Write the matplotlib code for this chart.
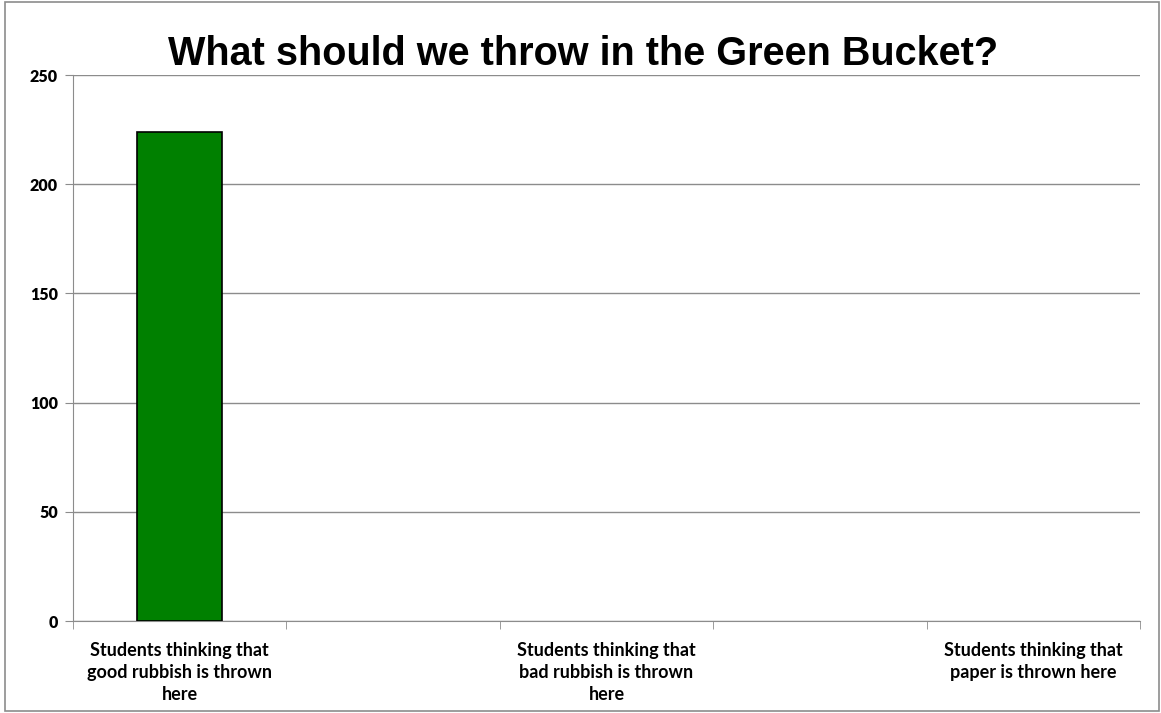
import matplotlib.pyplot as plt
from matplotlib.patches import Rectangle
import numpy as np

# Kategorien (2. und 4. sind leere Kategorien im Original)
categories = ["Students thinking that\ngood rubbish is thrown\nhere", "",
              "Students thinking that\nbad rubbish is thrown\nhere", "",
              "Students thinking that\npaper is thrown here"]
values = [224, 0, 0, 0, 0]
y_ticks = [0, 50, 100, 150, 200, 250]

fig = plt.figure(figsize=(11.61, 7.13), dpi=100)
ax = fig.add_axes([73 / 1161, 1 - 621 / 713, 1067 / 1161, 546 / 713])

x = np.arange(len(categories))
for xi, v in zip(x, values):
    if v > 0:
        ax.bar(xi, v, width=0.4, color='#008000', edgecolor='black', linewidth=1.2, zorder=3)

ax.set_xlim(-0.5, len(categories) - 0.5)
ax.set_ylim(0, 250)
ax.set_yticks(y_ticks)
ax.set_yticklabels([str(t) for t in y_ticks], fontfamily='Lato', fontweight='heavy', fontsize=11.5)
ax.yaxis.grid(True, color='#8c8c8c', linewidth=1)
ax.set_axisbelow(True)

# Kategorie-Beschriftungen mittig, Striche an den Grenzen
ax.set_xticks(x)
ax.set_xticklabels(categories, fontfamily='Lato', fontweight='bold', fontsize=13, linespacing=1.35)
ax.tick_params(axis='x', which='major', length=0, pad=15)
ax.set_xticks(np.arange(-0.5, len(categories)), minor=True)
ax.tick_params(axis='x', which='minor', length=6, color='#8c8c8c', direction='out')
ax.tick_params(axis='y', length=6, color='#8c8c8c', direction='out', pad=5)

for s in ['top', 'right']:
    ax.spines[s].set_visible(False)
for s in ['left', 'bottom']:
    ax.spines[s].set_color('#8c8c8c')

fig.text(0.502, 1 - 65 / 713, 'What should we throw in the Green Bucket?',
         ha='center', va='baseline', fontfamily='Liberation Sans', fontweight='bold', fontsize=28.5)

# grauer Rahmen um das Diagramm
fig.patches.append(Rectangle((5 / 1161, 2 / 713), 1154 / 1161, 709 / 713, transform=fig.transFigure,
                             fill=False, edgecolor='#8c8c8c', linewidth=1.2))

plt.savefig('out.png', dpi=100)
